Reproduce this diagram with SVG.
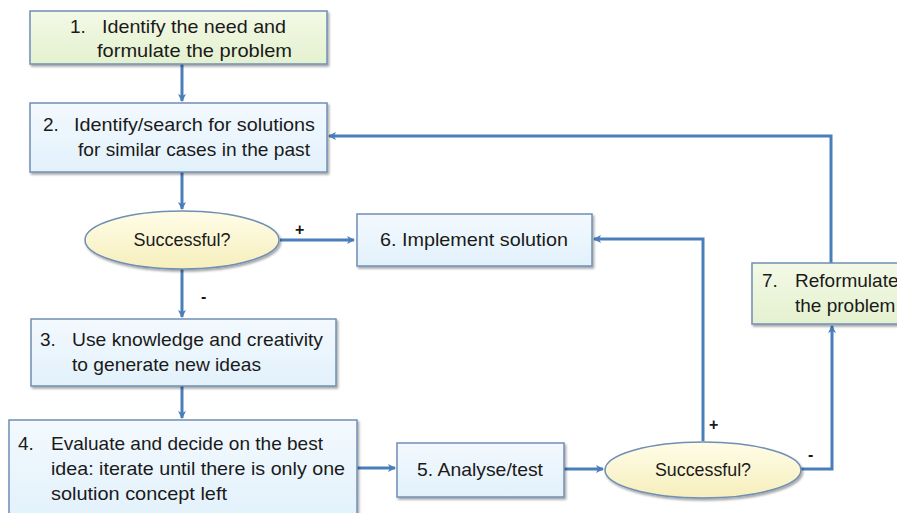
<svg xmlns="http://www.w3.org/2000/svg" width="897" height="513" viewBox="0 0 897 513">
<defs>
<linearGradient id="gBlue" x1="0" y1="0" x2="0" y2="1"><stop offset="0" stop-color="#f3f9fe"/><stop offset="1" stop-color="#e2f1fb"/></linearGradient>
<linearGradient id="gGreen" x1="0" y1="0" x2="0" y2="1"><stop offset="0" stop-color="#f3f9e6"/><stop offset="1" stop-color="#e4f1cf"/></linearGradient>
<linearGradient id="gYellow" x1="0" y1="0" x2="0" y2="1"><stop offset="0" stop-color="#fffde8"/><stop offset="1" stop-color="#f6eebc"/></linearGradient>
<filter id="sh" x="-10%" y="-10%" width="120%" height="130%"><feDropShadow dx="1.5" dy="2" stdDeviation="1.2" flood-color="#000" flood-opacity="0.35"/></filter>
<marker id="ah" markerWidth="8" markerHeight="8" refX="7" refY="4" orient="auto" markerUnits="userSpaceOnUse"><path d="M0,0 L8,4 L0,8 L2,4 Z" fill="#4a7ebb"/></marker>
</defs>
<style>
.box{stroke:#6f8fb4;stroke-width:1.5;filter:url(#sh)}
.blue{fill:url(#gBlue)}
.green{fill:url(#gGreen)}
.ell{fill:url(#gYellow);stroke:#6f8fb4;stroke-width:1.5;filter:url(#sh)}
text{font-family:"Liberation Sans",Arial,sans-serif;font-size:19px;fill:#1a1a1a}
.c{text-anchor:middle}
.con{fill:none;stroke:#4a7ebb;stroke-width:3}
.lbl{font-size:16px;font-weight:bold}
</style>
<rect width="897" height="513" fill="#fff"/>
<g id="connectors">
<path class="con" d="M182,64 V101" marker-end="url(#ah)"/>
<path class="con" d="M182,172 V209" marker-end="url(#ah)"/>
<path class="con" d="M280,240 H354" marker-end="url(#ah)"/>
<path class="con" d="M182,269 V317" marker-end="url(#ah)"/>
<path class="con" d="M182,386 V418" marker-end="url(#ah)"/>
<path class="con" d="M357,468 H395" marker-end="url(#ah)"/>
<path class="con" d="M564,469 H603" marker-end="url(#ah)"/>
<path class="con" d="M703,441 V239 H594" marker-end="url(#ah)"/>
<path class="con" d="M800,469 H832 V326" marker-end="url(#ah)"/>
<path class="con" d="M831,263 V136 H329" marker-end="url(#ah)"/>
<text class="lbl" x="295" y="235">+</text>
<text class="lbl" x="201" y="302">-</text>
<text class="lbl" x="709" y="430">+</text>
<text class="lbl" x="808" y="460">-</text>
</g>
<g id="n1">
<rect class="box green" x="30" y="11" width="297" height="53"/>
<text x="70" y="33">1.</text><text x="102" y="33" textLength="184" lengthAdjust="spacingAndGlyphs">Identify the need and</text>
<text x="97" y="57" textLength="195" lengthAdjust="spacingAndGlyphs">formulate the problem</text>
</g>
<g id="n2">
<rect class="box blue" x="30" y="103" width="297" height="69"/>
<text x="43" y="131">2.</text><text x="74" y="131" textLength="241" lengthAdjust="spacingAndGlyphs">Identify/search for solutions</text>
<text x="78" y="156" textLength="232" lengthAdjust="spacingAndGlyphs">for similar cases in the past</text>
</g>
<g id="d1">
<ellipse class="ell" cx="182" cy="240" rx="97" ry="29"/>
<text class="c" x="182" y="246" textLength="97" lengthAdjust="spacingAndGlyphs">Successful?</text>
</g>
<g id="n6">
<rect class="box blue" x="357" y="214" width="235" height="52"/>
<text class="c" x="474" y="246" textLength="188" lengthAdjust="spacingAndGlyphs">6. Implement solution</text>
</g>
<g id="n3">
<rect class="box blue" x="31" y="319" width="305" height="67"/>
<text x="40" y="346">3.</text><text x="72" y="346" textLength="251" lengthAdjust="spacingAndGlyphs">Use knowledge and creativity</text>
<text x="72" y="371" textLength="189" lengthAdjust="spacingAndGlyphs">to generate new ideas</text>
</g>
<g id="n4">
<rect class="box blue" x="9" y="420" width="348" height="100"/>
<text x="18" y="450">4.</text><text x="51" y="450" textLength="272" lengthAdjust="spacingAndGlyphs">Evaluate and decide on the best</text>
<text x="51" y="475" textLength="294" lengthAdjust="spacingAndGlyphs">idea: iterate until there is only one</text>
<text x="51" y="500" textLength="176" lengthAdjust="spacingAndGlyphs">solution concept left</text>
</g>
<g id="n5">
<rect class="box blue" x="397" y="443" width="167" height="54"/>
<text class="c" x="480" y="476" textLength="126" lengthAdjust="spacingAndGlyphs">5. Analyse/test</text>
</g>
<g id="d2">
<ellipse class="ell" cx="703" cy="470" rx="98" ry="28"/>
<text class="c" x="703" y="476" textLength="96" lengthAdjust="spacingAndGlyphs">Successful?</text>
</g>
<g id="n7">
<rect class="box green" x="752" y="263" width="170" height="61"/>
<text x="762" y="287">7.</text><text x="795" y="287">Reformulate</text>
<text x="795" y="312">the problem</text>
</g>
</svg>
